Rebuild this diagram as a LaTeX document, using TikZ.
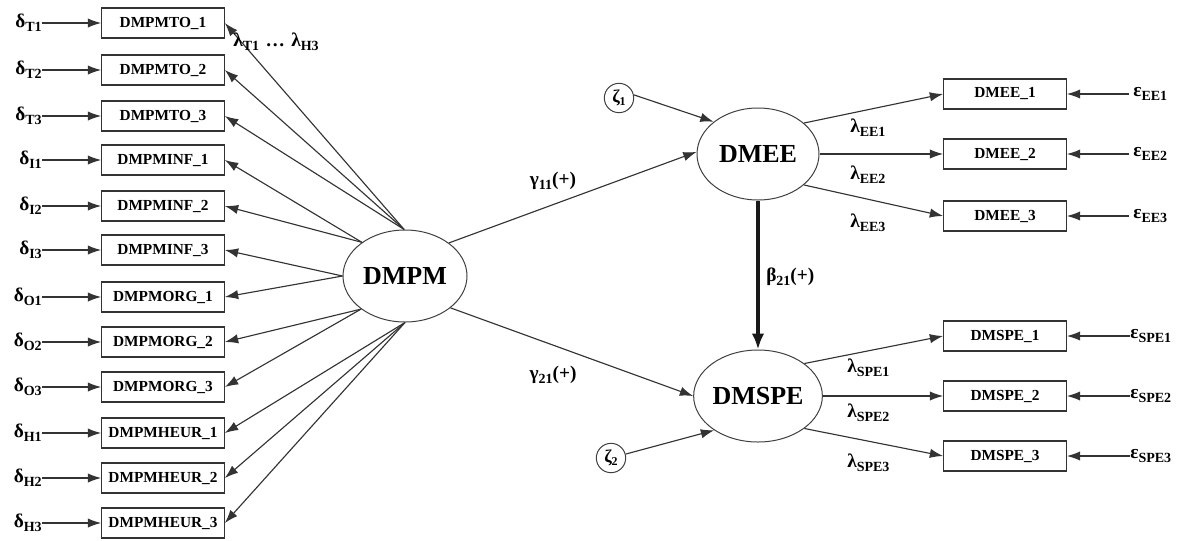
\documentclass[tikz,border=0pt]{standalone}
\usepackage{fontspec}
\setmainfont{Liberation Serif}
\usetikzlibrary{shapes.geometric,arrows.meta}
\newcommand{\lsub}[1]{\raisebox{-0.45ex}{\fontsize{10.5}{11}\selectfont #1}}
\newcommand{\zsub}[1]{\raisebox{-0.4ex}{\fontsize{9}{9}\selectfont #1}}
\begin{document}
\begin{tikzpicture}[x=0.75pt,y=-0.75pt,
  ln/.style={draw=black!80, line width=0.85pt},
  arr/.style={ln,-{Latex[length=10pt,width=7pt]}},
  mbox/.style={draw=black!80, line width=0.8pt, minimum width=92pt, minimum height=22.5pt, inner sep=0pt, font=\fontsize{11.5}{12}\selectfont\bfseries},
  lat/.style={ellipse, draw=black!75, line width=0.75pt, minimum width=91.5pt, minimum height=69pt, inner sep=0pt, font=\fontsize{19.5}{20}\selectfont\bfseries},
  glab/.style={font=\fontsize{14.5}{15}\selectfont\bfseries, inner sep=0pt},
  zet/.style={circle, draw=black!75, line width=0.75pt, minimum size=22pt, inner sep=0pt, font=\fontsize{13.5}{13.5}\selectfont\bfseries}
]
\useasboundingbox (0,0) rectangle (1181,540);

% central latent variables
\node[lat, minimum width=93pt] (DMPM) at (405,276) {DMPM};
\node[lat] (DMEE) at (758,154) {DMEE};
\node[lat] (DMSPE) at (758,396) {DMSPE};

% left indicators
\foreach \i/\t/\y/\d in {1/DMPMTO\_1/23/T1, 2/DMPMTO\_2/70/T2, 3/DMPMTO\_3/116/T3,
  4/DMPMINF\_1/160/I1, 5/DMPMINF\_2/206/I2, 6/DMPMINF\_3/250/I3,
  7/DMPMORG\_1/297/O1, 8/DMPMORG\_2/342/O2, 9/DMPMORG\_3/387/O3,
  10/DMPMHEUR\_1/433/H1, 11/DMPMHEUR\_2/478/H2, 12/DMPMHEUR\_3/523/H3}{
  \node[mbox] (L\i) at (163,\y) {\t};
  \node[glab, anchor=east] (d\i) at (42,\y) {δ\lsub{\d}};
  \draw[arr] (d\i.east) -- (L\i.west);
}

% loadings from DMPM
\foreach \i/\a in {1/91, 2/91, 3/91, 4/142, 5/142, 6/180, 7/180, 8/217, 9/217, 10/270, 11/270, 12/270}{
  \draw[arr] (DMPM.\a) -- (L\i.east);
}
\node[glab, anchor=west] (lamT) at (233,42) {λ\lsub{T1}\,\,…\,\,λ\lsub{H3}};

% disturbances
\node[zet] (z1) at (619,98) {ζ\zsub{1}};
\node[zet] (z2) at (611,458) {ζ\zsub{2}};
\draw[arr] (z1.12) -- (DMEE.144);
\draw[arr] (z2.15) -- (DMSPE.218);

% structural paths
\draw[arr] (DMPM.37) -- (DMEE.178);
\draw[arr] (DMPM.325) -- (DMSPE.180);
\node[glab] (g11) at (553,181) {γ\lsub{11}(+)};
\node[glab] (g21) at (553,375) {γ\lsub{21}(+)};
\draw[draw=black!90, line width=3.4pt, -{Latex[length=12pt,width=9.5pt]}] (DMEE.south) -- (DMSPE.north);
\node[glab, anchor=west] (b21) at (766,277) {β\lsub{21}(+)};

% right indicators DMEE
\foreach \i/\y/\a in {1/94/34, 2/154/0, 3/216/-34}{
  \node[mbox] (R\i) at (1005,\y) {DMEE\_\i};
  \node[glab, anchor=west, inner xsep=3pt] (e\i) at (1129,\y) {ε\lsub{EE\i}};
  \draw[arr] (e\i.west) -- (R\i.east);
  \draw[arr] (DMEE.\a) -- (R\i.west);
}
\node[glab, anchor=west] (lE1) at (850,128) {λ\lsub{EE1}};
\node[glab, anchor=west] (lE2) at (850,175) {λ\lsub{EE2}};
\node[glab, anchor=west] (lE3) at (850,223) {λ\lsub{EE3}};

% right indicators DMSPE
\foreach \i/\y/\a in {1/336/35, 2/396/0, 3/456/-35}{
  \node[mbox] (S\i) at (1005,\y) {DMSPE\_\i};
  \node[glab, anchor=west] (s\i) at (1130,\y) {ε\lsub{SPE\i}};
  \draw[arr] (s\i.west) -- (S\i.east);
  \draw[arr] (DMSPE.\a) -- (S\i.west);
}
\node[glab, anchor=west] (lS1) at (847,368) {λ\lsub{SPE1}};
\node[glab, anchor=west] (lS2) at (847,413) {λ\lsub{SPE2}};
\node[glab, anchor=west] (lS3) at (847,463) {λ\lsub{SPE3}};
\end{tikzpicture}
\end{document}
